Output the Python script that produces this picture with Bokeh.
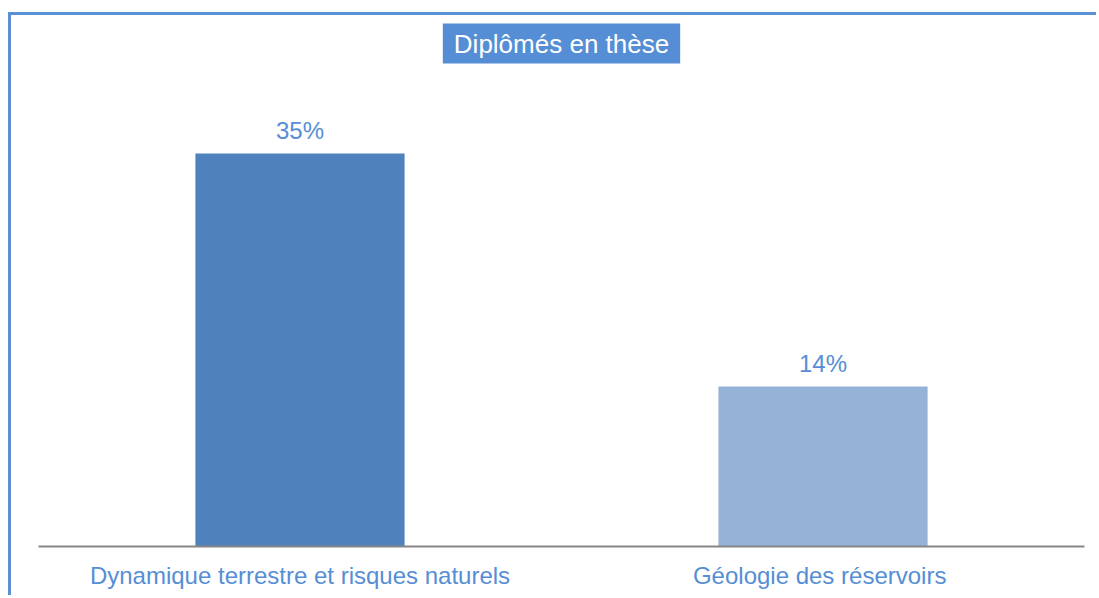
from bokeh.plotting import figure
from bokeh.models import ColumnDataSource, FactorRange, Range1d, LabelSet
from bokeh.core.properties import value
from bokeh.embed import file_html
from bokeh.resources import INLINE

categories = ["Dynamique terrestre et risques naturels", "Géologie des  réservoirs"]
values = [35, 14.25]
labels = ["35%", "14%"]
colors = ["#4F81BD", "#95B3D7"]

TEXT_BLUE = "#558ED5"
FONT = "Liberation Sans"

src = ColumnDataSource(dict(cat=categories, val=values, lab=labels, col=colors))

p = figure(
    x_range=FactorRange(*categories, range_padding=0),
    y_range=Range1d(0, 42.4),
    width=1088, height=583,
    output_backend="svg", toolbar_location=None,
    min_border_left=27, min_border_right=15, min_border_bottom=52, min_border_top=55,
)
p.styles = {"border-top": "3px solid #5B8FD6", "border-left": "3px solid #5B8FD6"}
p.margin = (12, 0, 0, 8)

p.vbar(x="cat", top="val", width=0.4, fill_color="col", line_color=None, source=src)

p.add_layout(LabelSet(x="cat", y="val", text="lab", source=src, text_align="center",
                      text_baseline="bottom", y_offset=10, text_color=TEXT_BLUE,
                      text_font_size="24px", text_font=value(FONT)))

p.title.text = "Diplômés en thèse"
p.title.align = "center"
p.title.vertical_align = "top"
p.title.text_color = "white"
p.title.text_font = FONT
p.title.text_font_size = "26px"
p.title.text_font_style = "normal"
p.title.background_fill_color = TEXT_BLUE
p.title.padding = dict(left=11, right=11, top=5, bottom=5)
p.title.standoff = 10

p.yaxis.visible = False
p.xgrid.grid_line_color = None
p.ygrid.grid_line_color = None
p.outline_line_color = None

ax = p.xaxis[0]
ax.axis_line_color = "#868686"
ax.axis_line_width = 2
ax.major_tick_line_color = None
ax.minor_tick_line_color = None
ax.major_label_text_color = TEXT_BLUE
ax.major_label_text_font = FONT
ax.major_label_text_font_size = "24px"
ax.major_label_standoff = 9

open("out.html", "w").write(file_html(p, INLINE))
